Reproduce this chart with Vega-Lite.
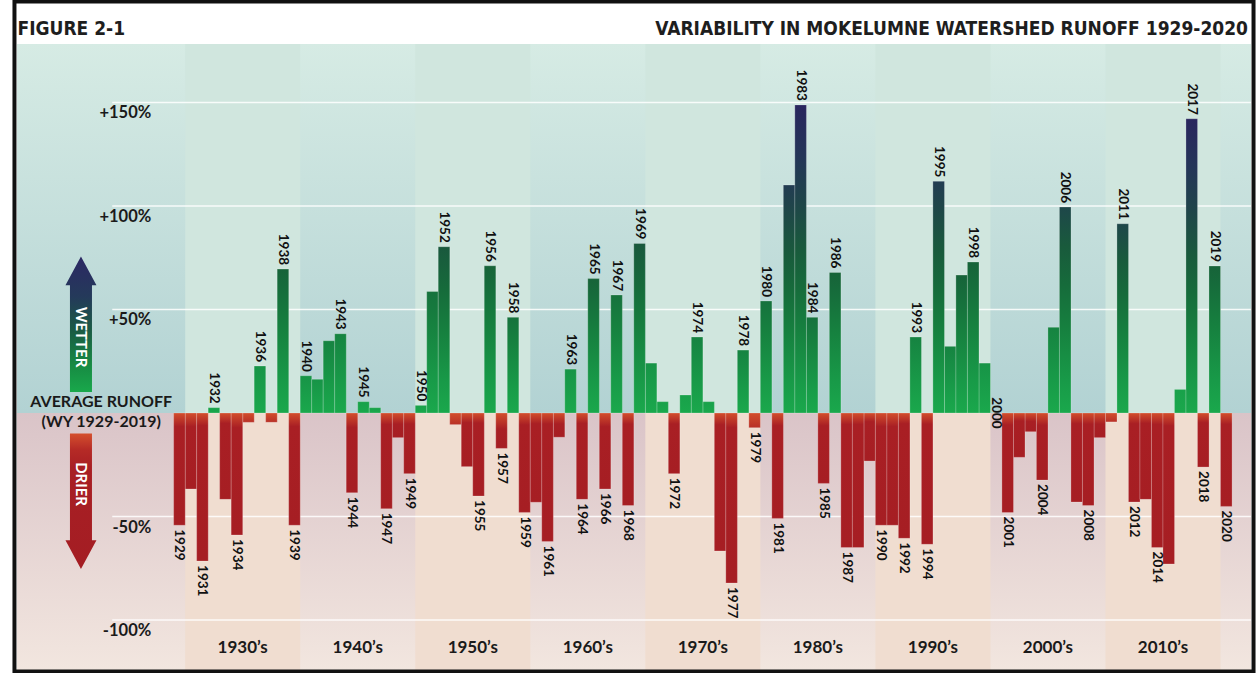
{
  "$schema": "https://vega.github.io/schema/vega-lite/v6.json",
  "width": 1244,
  "height": 626,
  "autosize": {"type": "none"},
  "padding": {"left": 12, "top": 44, "right": 4, "bottom": 3},
  "background": "#ffffff",
  "config": {"view": {"stroke": null}},
  "datasets": {
    "runoff": [
      {"year":1929,"value":-54.2,"labeled":true},
      {"year":1930,"value":-36.7,"labeled":false},
      {"year":1931,"value":-71.5,"labeled":true},
      {"year":1932,"value":2.6,"labeled":true},
      {"year":1933,"value":-41.7,"labeled":false},
      {"year":1934,"value":-58.9,"labeled":true},
      {"year":1935,"value":-4.5,"labeled":false},
      {"year":1936,"value":22.7,"labeled":true},
      {"year":1937,"value":-4.5,"labeled":false},
      {"year":1938,"value":69.5,"labeled":true},
      {"year":1939,"value":-54.2,"labeled":true},
      {"year":1940,"value":18.0,"labeled":true},
      {"year":1941,"value":16.3,"labeled":false},
      {"year":1942,"value":34.9,"labeled":false},
      {"year":1943,"value":38.3,"labeled":true},
      {"year":1944,"value":-38.5,"labeled":true},
      {"year":1945,"value":5.5,"labeled":true},
      {"year":1946,"value":2.6,"labeled":false},
      {"year":1947,"value":-46.2,"labeled":true},
      {"year":1948,"value":-11.9,"labeled":false},
      {"year":1949,"value":-29.3,"labeled":true},
      {"year":1950,"value":3.7,"labeled":true},
      {"year":1951,"value":58.7,"labeled":false},
      {"year":1952,"value":80.3,"labeled":true},
      {"year":1953,"value":-5.6,"labeled":false},
      {"year":1954,"value":-25.9,"labeled":false},
      {"year":1955,"value":-40.1,"labeled":true},
      {"year":1956,"value":71.1,"labeled":true},
      {"year":1957,"value":-17.1,"labeled":true},
      {"year":1958,"value":46.2,"labeled":true},
      {"year":1959,"value":-48.0,"labeled":true},
      {"year":1960,"value":-43.1,"labeled":false},
      {"year":1961,"value":-62.1,"labeled":true},
      {"year":1962,"value":-11.7,"labeled":false},
      {"year":1963,"value":21.2,"labeled":true},
      {"year":1964,"value":-41.7,"labeled":true},
      {"year":1965,"value":64.9,"labeled":true},
      {"year":1966,"value":-36.7,"labeled":true},
      {"year":1967,"value":57.0,"labeled":true},
      {"year":1968,"value":-44.7,"labeled":true},
      {"year":1969,"value":81.9,"labeled":true},
      {"year":1970,"value":24.1,"labeled":false},
      {"year":1971,"value":5.5,"labeled":false},
      {"year":1972,"value":-29.3,"labeled":true},
      {"year":1973,"value":8.7,"labeled":false},
      {"year":1974,"value":36.7,"labeled":true},
      {"year":1975,"value":5.5,"labeled":false},
      {"year":1976,"value":-66.6,"labeled":false},
      {"year":1977,"value":-82.1,"labeled":true},
      {"year":1978,"value":30.4,"labeled":true},
      {"year":1979,"value":-7.1,"labeled":true},
      {"year":1980,"value":54.1,"labeled":true},
      {"year":1981,"value":-50.9,"labeled":true},
      {"year":1982,"value":110.1,"labeled":false},
      {"year":1983,"value":148.8,"labeled":true},
      {"year":1984,"value":46.2,"labeled":true},
      {"year":1985,"value":-34.0,"labeled":true},
      {"year":1986,"value":67.9,"labeled":true},
      {"year":1987,"value":-65.0,"labeled":true},
      {"year":1988,"value":-65.0,"labeled":false},
      {"year":1989,"value":-23.2,"labeled":false},
      {"year":1990,"value":-54.2,"labeled":true},
      {"year":1991,"value":-54.2,"labeled":false},
      {"year":1992,"value":-60.5,"labeled":true},
      {"year":1993,"value":36.7,"labeled":true},
      {"year":1994,"value":-63.4,"labeled":true},
      {"year":1995,"value":111.9,"labeled":true},
      {"year":1996,"value":32.2,"labeled":false},
      {"year":1997,"value":66.6,"labeled":false},
      {"year":1998,"value":72.9,"labeled":true},
      {"year":1999,"value":24.1,"labeled":false},
      {"year":2000,"value":0,"labeled":true},
      {"year":2001,"value":-48.1,"labeled":true},
      {"year":2002,"value":-21.4,"labeled":false},
      {"year":2003,"value":-9.0,"labeled":false},
      {"year":2004,"value":-32.4,"labeled":true},
      {"year":2005,"value":41.4,"labeled":false},
      {"year":2006,"value":99.5,"labeled":true},
      {"year":2007,"value":-43.0,"labeled":false},
      {"year":2008,"value":-44.7,"labeled":true},
      {"year":2009,"value":-11.9,"labeled":false},
      {"year":2010,"value":-4.3,"labeled":false},
      {"year":2011,"value":91.4,"labeled":true},
      {"year":2012,"value":-43.0,"labeled":true},
      {"year":2013,"value":-41.7,"labeled":false},
      {"year":2014,"value":-65.0,"labeled":true},
      {"year":2015,"value":-72.9,"labeled":false},
      {"year":2016,"value":11.4,"labeled":false},
      {"year":2017,"value":142.1,"labeled":true},
      {"year":2018,"value":-26.1,"labeled":true},
      {"year":2019,"value":71.0,"labeled":true},
      {"year":2020,"value":-45.1,"labeled":true}
    ],
    "decades": [
      {"decade":"1930’s","start":1929.5,"end":1939.5,"mid":1934.5,"shade":"light"},
      {"decade":"1940’s","start":1939.5,"end":1949.5,"mid":1944.5,"shade":"dark"},
      {"decade":"1950’s","start":1949.5,"end":1959.5,"mid":1954.5,"shade":"light"},
      {"decade":"1960’s","start":1959.5,"end":1969.5,"mid":1964.5,"shade":"dark"},
      {"decade":"1970’s","start":1969.5,"end":1979.5,"mid":1974.5,"shade":"light"},
      {"decade":"1980’s","start":1979.5,"end":1989.5,"mid":1984.5,"shade":"dark"},
      {"decade":"1990’s","start":1989.5,"end":1999.5,"mid":1994.5,"shade":"light"},
      {"decade":"2000’s","start":1999.5,"end":2009.5,"mid":2004.5,"shade":"dark"},
      {"decade":"2010’s","start":2009.5,"end":2019.5,"mid":2014.5,"shade":"light"}
    ],
    "grid": [
      {"v":150,"t":"+150%"},
      {"v":100,"t":"+100%"},
      {"v":50,"t":"+50%"},
      {"v":-50,"t":"-50%"},
      {"v":-100,"t":"-100%"}
    ]
  },
  "layer": [
    {
      "data": {"values": [{}]},
      "mark": {"type": "rect", "fill": {"gradient": "linear", "x1": 0, "y1": 0, "x2": 0, "y2": 1, "stops": [{"offset": 0, "color": "#d6ebe4"}, {"offset": 1, "color": "#b2d2d3"}]}},
      "encoding": {
        "x": {"datum": 1914.88, "type": "quantitative", "scale": {"domain": [1914.88, 2022.15], "nice": false, "zero": false}, "axis": null},
        "x2": {"datum": 2022.15},
        "y": {"datum": 178.2, "type": "quantitative", "scale": {"domain": [-124.1, 178.2], "nice": false, "zero": false}, "axis": null},
        "y2": {"datum": 0}
      }
    },
    {
      "data": {"values": [{}]},
      "mark": {"type": "rect", "fill": {"gradient": "linear", "x1": 0, "y1": 0, "x2": 0, "y2": 1, "stops": [{"offset": 0, "color": "#dac4c8"}, {"offset": 1, "color": "#f2e6df"}]}},
      "encoding": {
        "x": {"datum": 1914.88, "type": "quantitative", "scale": {"domain": [1914.88, 2022.15], "nice": false, "zero": false}, "axis": null},
        "x2": {"datum": 2022.15},
        "y": {"datum": 0, "type": "quantitative", "scale": {"domain": [-124.1, 178.2], "nice": false, "zero": false}, "axis": null},
        "y2": {"datum": -124.1}
      }
    },
    {
      "data": {"name": "decades"},
      "transform": [{"filter": "datum.shade == 'light'"}],
      "mark": {"type": "rect", "fill": "#d0e6de"},
      "encoding": {
        "x": {"field": "start", "type": "quantitative", "scale": {"domain": [1914.88, 2022.15], "nice": false, "zero": false}, "axis": null},
        "x2": {"field": "end"},
        "y": {"datum": 178.2, "type": "quantitative", "scale": {"domain": [-124.1, 178.2], "nice": false, "zero": false}, "axis": null},
        "y2": {"datum": 0}
      }
    },
    {
      "data": {"name": "decades"},
      "transform": [{"filter": "datum.shade == 'light'"}],
      "mark": {"type": "rect", "fill": "#f0ddd0"},
      "encoding": {
        "x": {"field": "start", "type": "quantitative", "scale": {"domain": [1914.88, 2022.15], "nice": false, "zero": false}, "axis": null},
        "x2": {"field": "end"},
        "y": {"datum": 0, "type": "quantitative", "scale": {"domain": [-124.1, 178.2], "nice": false, "zero": false}, "axis": null},
        "y2": {"datum": -124.1}
      }
    },
    {
      "data": {"name": "grid"},
      "mark": {"type": "rule", "color": "#ffffff", "strokeWidth": 1.5, "opacity": 0.85},
      "encoding": {
        "x": {"datum": 1923.16, "type": "quantitative", "scale": {"domain": [1914.88, 2022.15], "nice": false, "zero": false}, "axis": null},
        "x2": {"datum": 2022.15},
        "y": {"field": "v", "type": "quantitative", "scale": {"domain": [-124.1, 178.2], "nice": false, "zero": false}, "axis": null}
      }
    },
    {
      "data": {"name": "grid"},
      "mark": {"type": "text", "align": "right", "baseline": "middle", "dy": 11, "font": "Lato", "fontWeight": "bold", "fontSize": 16.5, "color": "#1a1a1a"},
      "encoding": {
        "x": {"datum": 1926.55, "type": "quantitative", "scale": {"domain": [1914.88, 2022.15], "nice": false, "zero": false}, "axis": null},
        "y": {"field": "v", "type": "quantitative", "scale": {"domain": [-124.1, 178.2], "nice": false, "zero": false}, "axis": null},
        "text": {"field": "t", "type": "nominal"}
      }
    },
    {
      "data": {"name": "runoff"},
      "transform": [{"filter": "datum.value > 0 && datum.value <= 15"}],
      "mark": {"type": "bar", "width": 11.6, "stroke": "#ffffff", "strokeOpacity": 0.22, "strokeWidth": 1, "fill": {"gradient": "linear", "x1": 0, "y1": 1, "x2": 0, "y2": 0, "stops": [{"offset": 0, "color": "#1aa84c"}, {"offset": 1, "color": "#19a14a"}]}},
      "encoding": {
        "x": {"field": "year", "type": "quantitative", "scale": {"domain": [1914.88, 2022.15], "nice": false, "zero": false}, "axis": null},
        "y": {"field": "value", "type": "quantitative", "scale": {"domain": [-124.1, 178.2], "nice": false, "zero": false}, "axis": null},
        "y2": {"datum": 0}
      }
    },
    {
      "data": {"name": "runoff"},
      "transform": [{"filter": "datum.value > 15 && datum.value <= 30"}],
      "mark": {"type": "bar", "width": 11.6, "stroke": "#ffffff", "strokeOpacity": 0.22, "strokeWidth": 1, "fill": {"gradient": "linear", "x1": 0, "y1": 1, "x2": 0, "y2": 0, "stops": [{"offset": 0, "color": "#1aa84c"}, {"offset": 1, "color": "#179447"}]}},
      "encoding": {
        "x": {"field": "year", "type": "quantitative", "scale": {"domain": [1914.88, 2022.15], "nice": false, "zero": false}, "axis": null},
        "y": {"field": "value", "type": "quantitative", "scale": {"domain": [-124.1, 178.2], "nice": false, "zero": false}, "axis": null},
        "y2": {"datum": 0}
      }
    },
    {
      "data": {"name": "runoff"},
      "transform": [{"filter": "datum.value > 30 && datum.value <= 45"}],
      "mark": {"type": "bar", "width": 11.6, "stroke": "#ffffff", "strokeOpacity": 0.22, "strokeWidth": 1, "fill": {"gradient": "linear", "x1": 0, "y1": 1, "x2": 0, "y2": 0, "stops": [{"offset": 0, "color": "#1aa84c"}, {"offset": 0.4, "color": "#189a48"}, {"offset": 1, "color": "#168341"}]}},
      "encoding": {
        "x": {"field": "year", "type": "quantitative", "scale": {"domain": [1914.88, 2022.15], "nice": false, "zero": false}, "axis": null},
        "y": {"field": "value", "type": "quantitative", "scale": {"domain": [-124.1, 178.2], "nice": false, "zero": false}, "axis": null},
        "y2": {"datum": 0}
      }
    },
    {
      "data": {"name": "runoff"},
      "transform": [{"filter": "datum.value > 45 && datum.value <= 60"}],
      "mark": {"type": "bar", "width": 11.6, "stroke": "#ffffff", "strokeOpacity": 0.22, "strokeWidth": 1, "fill": {"gradient": "linear", "x1": 0, "y1": 1, "x2": 0, "y2": 0, "stops": [{"offset": 0, "color": "#1aa84c"}, {"offset": 0.28, "color": "#189a48"}, {"offset": 0.75, "color": "#16803f"}, {"offset": 1, "color": "#16723d"}]}},
      "encoding": {
        "x": {"field": "year", "type": "quantitative", "scale": {"domain": [1914.88, 2022.15], "nice": false, "zero": false}, "axis": null},
        "y": {"field": "value", "type": "quantitative", "scale": {"domain": [-124.1, 178.2], "nice": false, "zero": false}, "axis": null},
        "y2": {"datum": 0}
      }
    },
    {
      "data": {"name": "runoff"},
      "transform": [{"filter": "datum.value > 60 && datum.value <= 75"}],
      "mark": {"type": "bar", "width": 11.6, "stroke": "#ffffff", "strokeOpacity": 0.22, "strokeWidth": 1, "fill": {"gradient": "linear", "x1": 0, "y1": 1, "x2": 0, "y2": 0, "stops": [{"offset": 0, "color": "#1aa84c"}, {"offset": 0.22, "color": "#189a48"}, {"offset": 0.59, "color": "#16803f"}, {"offset": 0.88, "color": "#166b3b"}, {"offset": 1, "color": "#176339"}]}},
      "encoding": {
        "x": {"field": "year", "type": "quantitative", "scale": {"domain": [1914.88, 2022.15], "nice": false, "zero": false}, "axis": null},
        "y": {"field": "value", "type": "quantitative", "scale": {"domain": [-124.1, 178.2], "nice": false, "zero": false}, "axis": null},
        "y2": {"datum": 0}
      }
    },
    {
      "data": {"name": "runoff"},
      "transform": [{"filter": "datum.value > 75 && datum.value <= 90"}],
      "mark": {"type": "bar", "width": 11.6, "stroke": "#ffffff", "strokeOpacity": 0.22, "strokeWidth": 1, "fill": {"gradient": "linear", "x1": 0, "y1": 1, "x2": 0, "y2": 0, "stops": [{"offset": 0, "color": "#1aa84c"}, {"offset": 0.185, "color": "#189a48"}, {"offset": 0.49, "color": "#16803f"}, {"offset": 0.74, "color": "#166b3b"}, {"offset": 1, "color": "#19583d"}]}},
      "encoding": {
        "x": {"field": "year", "type": "quantitative", "scale": {"domain": [1914.88, 2022.15], "nice": false, "zero": false}, "axis": null},
        "y": {"field": "value", "type": "quantitative", "scale": {"domain": [-124.1, 178.2], "nice": false, "zero": false}, "axis": null},
        "y2": {"datum": 0}
      }
    },
    {
      "data": {"name": "runoff"},
      "transform": [{"filter": "datum.value > 90 && datum.value <= 105"}],
      "mark": {"type": "bar", "width": 11.6, "stroke": "#ffffff", "strokeOpacity": 0.22, "strokeWidth": 1, "fill": {"gradient": "linear", "x1": 0, "y1": 1, "x2": 0, "y2": 0, "stops": [{"offset": 0, "color": "#1aa84c"}, {"offset": 0.156, "color": "#189a48"}, {"offset": 0.417, "color": "#16803f"}, {"offset": 0.625, "color": "#166b3b"}, {"offset": 0.81, "color": "#195a3c"}, {"offset": 1, "color": "#1e474a"}]}},
      "encoding": {
        "x": {"field": "year", "type": "quantitative", "scale": {"domain": [1914.88, 2022.15], "nice": false, "zero": false}, "axis": null},
        "y": {"field": "value", "type": "quantitative", "scale": {"domain": [-124.1, 178.2], "nice": false, "zero": false}, "axis": null},
        "y2": {"datum": 0}
      }
    },
    {
      "data": {"name": "runoff"},
      "transform": [{"filter": "datum.value > 105 && datum.value <= 125"}],
      "mark": {"type": "bar", "width": 11.6, "stroke": "#ffffff", "strokeOpacity": 0.22, "strokeWidth": 1, "fill": {"gradient": "linear", "x1": 0, "y1": 1, "x2": 0, "y2": 0, "stops": [{"offset": 0, "color": "#1aa84c"}, {"offset": 0.135, "color": "#189a48"}, {"offset": 0.36, "color": "#16803f"}, {"offset": 0.54, "color": "#166b3b"}, {"offset": 0.7, "color": "#195a3c"}, {"offset": 0.9, "color": "#1f4549"}, {"offset": 1, "color": "#223c52"}]}},
      "encoding": {
        "x": {"field": "year", "type": "quantitative", "scale": {"domain": [1914.88, 2022.15], "nice": false, "zero": false}, "axis": null},
        "y": {"field": "value", "type": "quantitative", "scale": {"domain": [-124.1, 178.2], "nice": false, "zero": false}, "axis": null},
        "y2": {"datum": 0}
      }
    },
    {
      "data": {"name": "runoff"},
      "transform": [{"filter": "datum.value > 125"}],
      "mark": {"type": "bar", "width": 11.6, "stroke": "#ffffff", "strokeOpacity": 0.22, "strokeWidth": 1, "fill": {"gradient": "linear", "x1": 0, "y1": 1, "x2": 0, "y2": 0, "stops": [{"offset": 0, "color": "#1aa84c"}, {"offset": 0.103, "color": "#189a48"}, {"offset": 0.274, "color": "#16803f"}, {"offset": 0.41, "color": "#166b3b"}, {"offset": 0.534, "color": "#195a3c"}, {"offset": 0.685, "color": "#1f4549"}, {"offset": 0.836, "color": "#243558"}, {"offset": 1, "color": "#29265e"}]}},
      "encoding": {
        "x": {"field": "year", "type": "quantitative", "scale": {"domain": [1914.88, 2022.15], "nice": false, "zero": false}, "axis": null},
        "y": {"field": "value", "type": "quantitative", "scale": {"domain": [-124.1, 178.2], "nice": false, "zero": false}, "axis": null},
        "y2": {"datum": 0}
      }
    },
    {
      "data": {"name": "runoff"},
      "transform": [{"filter": "datum.value < 0 && datum.value >= -8"}],
      "mark": {"type": "bar", "width": 11.6, "stroke": "#ffffff", "strokeOpacity": 0.22, "strokeWidth": 1, "fill": {"gradient": "linear", "x1": 0, "y1": 0, "x2": 0, "y2": 1, "stops": [{"offset": 0, "color": "#d24e2c"}, {"offset": 1, "color": "#b83027"}]}},
      "encoding": {
        "x": {"field": "year", "type": "quantitative", "scale": {"domain": [1914.88, 2022.15], "nice": false, "zero": false}, "axis": null},
        "y": {"field": "value", "type": "quantitative", "scale": {"domain": [-124.1, 178.2], "nice": false, "zero": false}, "axis": null},
        "y2": {"datum": 0}
      }
    },
    {
      "data": {"name": "runoff"},
      "transform": [{"filter": "datum.value < -8 && datum.value >= -20"}],
      "mark": {"type": "bar", "width": 11.6, "stroke": "#ffffff", "strokeOpacity": 0.22, "strokeWidth": 1, "fill": {"gradient": "linear", "x1": 0, "y1": 0, "x2": 0, "y2": 1, "stops": [{"offset": 0, "color": "#d24e2c"}, {"offset": 0.45, "color": "#a91f24"}, {"offset": 1, "color": "#a61e23"}]}},
      "encoding": {
        "x": {"field": "year", "type": "quantitative", "scale": {"domain": [1914.88, 2022.15], "nice": false, "zero": false}, "axis": null},
        "y": {"field": "value", "type": "quantitative", "scale": {"domain": [-124.1, 178.2], "nice": false, "zero": false}, "axis": null},
        "y2": {"datum": 0}
      }
    },
    {
      "data": {"name": "runoff"},
      "transform": [{"filter": "datum.value < -20 && datum.value >= -40"}],
      "mark": {"type": "bar", "width": 11.6, "stroke": "#ffffff", "strokeOpacity": 0.22, "strokeWidth": 1, "fill": {"gradient": "linear", "x1": 0, "y1": 0, "x2": 0, "y2": 1, "stops": [{"offset": 0, "color": "#d24e2c"}, {"offset": 0.18, "color": "#a91f24"}, {"offset": 1, "color": "#a61e23"}]}},
      "encoding": {
        "x": {"field": "year", "type": "quantitative", "scale": {"domain": [1914.88, 2022.15], "nice": false, "zero": false}, "axis": null},
        "y": {"field": "value", "type": "quantitative", "scale": {"domain": [-124.1, 178.2], "nice": false, "zero": false}, "axis": null},
        "y2": {"datum": 0}
      }
    },
    {
      "data": {"name": "runoff"},
      "transform": [{"filter": "datum.value < -40 && datum.value >= -60"}],
      "mark": {"type": "bar", "width": 11.6, "stroke": "#ffffff", "strokeOpacity": 0.22, "strokeWidth": 1, "fill": {"gradient": "linear", "x1": 0, "y1": 0, "x2": 0, "y2": 1, "stops": [{"offset": 0, "color": "#d24e2c"}, {"offset": 0.12, "color": "#a91f24"}, {"offset": 1, "color": "#a61e23"}]}},
      "encoding": {
        "x": {"field": "year", "type": "quantitative", "scale": {"domain": [1914.88, 2022.15], "nice": false, "zero": false}, "axis": null},
        "y": {"field": "value", "type": "quantitative", "scale": {"domain": [-124.1, 178.2], "nice": false, "zero": false}, "axis": null},
        "y2": {"datum": 0}
      }
    },
    {
      "data": {"name": "runoff"},
      "transform": [{"filter": "datum.value < -60"}],
      "mark": {"type": "bar", "width": 11.6, "stroke": "#ffffff", "strokeOpacity": 0.22, "strokeWidth": 1, "fill": {"gradient": "linear", "x1": 0, "y1": 0, "x2": 0, "y2": 1, "stops": [{"offset": 0, "color": "#d24e2c"}, {"offset": 0.085, "color": "#a91f24"}, {"offset": 1, "color": "#a61e23"}]}},
      "encoding": {
        "x": {"field": "year", "type": "quantitative", "scale": {"domain": [1914.88, 2022.15], "nice": false, "zero": false}, "axis": null},
        "y": {"field": "value", "type": "quantitative", "scale": {"domain": [-124.1, 178.2], "nice": false, "zero": false}, "axis": null},
        "y2": {"datum": 0}
      }
    },
    {
      "data": {"name": "runoff"},
      "transform": [{"filter": "datum.labeled && datum.value > 0"}],
      "mark": {"type": "text", "angle": 90, "align": "right", "baseline": "middle", "dx": -4, "font": "Lato", "fontWeight": "bold", "fontSize": 13.5, "color": "#111111"},
      "encoding": {
        "x": {"field": "year", "type": "quantitative", "scale": {"domain": [1914.88, 2022.15], "nice": false, "zero": false}, "axis": null},
        "y": {"field": "value", "type": "quantitative", "scale": {"domain": [-124.1, 178.2], "nice": false, "zero": false}, "axis": null},
        "text": {"field": "year", "type": "nominal"}
      }
    },
    {
      "data": {"name": "runoff"},
      "transform": [{"filter": "datum.labeled && datum.value < 0"}],
      "mark": {"type": "text", "angle": 90, "align": "left", "baseline": "middle", "dx": 4, "font": "Lato", "fontWeight": "bold", "fontSize": 13.5, "color": "#111111"},
      "encoding": {
        "x": {"field": "year", "type": "quantitative", "scale": {"domain": [1914.88, 2022.15], "nice": false, "zero": false}, "axis": null},
        "y": {"field": "value", "type": "quantitative", "scale": {"domain": [-124.1, 178.2], "nice": false, "zero": false}, "axis": null},
        "text": {"field": "year", "type": "nominal"}
      }
    },
    {
      "data": {"name": "runoff"},
      "transform": [{"filter": "datum.labeled && datum.value == 0"}],
      "mark": {"type": "text", "angle": 90, "align": "center", "baseline": "middle", "font": "Lato", "fontWeight": "bold", "fontSize": 13.5, "color": "#111111"},
      "encoding": {
        "x": {"field": "year", "type": "quantitative", "scale": {"domain": [1914.88, 2022.15], "nice": false, "zero": false}, "axis": null},
        "y": {"field": "value", "type": "quantitative", "scale": {"domain": [-124.1, 178.2], "nice": false, "zero": false}, "axis": null},
        "text": {"field": "year", "type": "nominal"}
      }
    },
    {
      "data": {"name": "decades"},
      "mark": {"type": "text", "align": "center", "baseline": "middle", "font": "Lato", "fontWeight": "bold", "fontSize": 17, "color": "#1a1a1a"},
      "encoding": {
        "x": {"field": "mid", "type": "quantitative", "scale": {"domain": [1914.88, 2022.15], "nice": false, "zero": false}, "axis": null},
        "y": {"datum": -113.5, "type": "quantitative", "scale": {"domain": [-124.1, 178.2], "nice": false, "zero": false}, "axis": null},
        "text": {"field": "decade", "type": "nominal"}
      }
    },
    {
      "data": {"values": [{}]},
      "mark": {"type": "point", "shape": "M0,-4.37L1,-2.52L0.71,-2.52L0.71,4.37L-0.71,4.37L-0.71,-2.52L-1,-2.52Z", "size": 961, "filled": true, "opacity": 1, "strokeWidth": 0, "fill": {"gradient": "linear", "x1": 0, "y1": 0, "x2": 0, "y2": 1, "stops": [{"offset": 0, "color": "#2c2864"}, {"offset": 0.3, "color": "#243a5a"}, {"offset": 0.55, "color": "#1a5c44"}, {"offset": 0.8, "color": "#178a43"}, {"offset": 1, "color": "#19a84b"}]}},
      "encoding": {
        "x": {"datum": 1920.44, "type": "quantitative", "scale": {"domain": [1914.88, 2022.15], "nice": false, "zero": false}, "axis": null},
        "y": {"datum": 42.88, "type": "quantitative", "scale": {"domain": [-124.1, 178.2], "nice": false, "zero": false}, "axis": null}
      }
    },
    {
      "data": {"values": [{}]},
      "mark": {"type": "point", "shape": "M-0.71,-4.37L0.71,-4.37L0.71,2.52L1,2.52L0,4.37L-1,2.52L-0.71,2.52Z", "size": 961, "filled": true, "opacity": 1, "strokeWidth": 0, "fill": {"gradient": "linear", "x1": 0, "y1": 0, "x2": 0, "y2": 1, "stops": [{"offset": 0, "color": "#d44f2d"}, {"offset": 0.12, "color": "#b52a26"}, {"offset": 0.25, "color": "#a81f24"}, {"offset": 1, "color": "#a41d23"}]}},
      "encoding": {
        "x": {"datum": 1920.44, "type": "quantitative", "scale": {"domain": [1914.88, 2022.15], "nice": false, "zero": false}, "axis": null},
        "y": {"datum": -42.64, "type": "quantitative", "scale": {"domain": [-124.1, 178.2], "nice": false, "zero": false}, "axis": null}
      }
    },
    {
      "data": {"values": [{"t": "WETTER", "v": 36.7}, {"t": "DRIER", "v": -34.3}]},
      "mark": {"type": "text", "angle": 90, "align": "center", "baseline": "middle", "font": "Lato", "fontWeight": "bold", "fontSize": 15, "color": "#ffffff"},
      "encoding": {
        "x": {"datum": 1920.44, "type": "quantitative", "scale": {"domain": [1914.88, 2022.15], "nice": false, "zero": false}, "axis": null},
        "y": {"field": "v", "type": "quantitative", "scale": {"domain": [-124.1, 178.2], "nice": false, "zero": false}, "axis": null},
        "text": {"field": "t", "type": "nominal"}
      }
    },
    {
      "data": {"values": [{"t": "AVERAGE RUNOFF", "v": 5.2}, {"t": "(WY 1929-2019)", "v": -4.2}]},
      "mark": {"type": "text", "align": "center", "baseline": "middle", "font": "Lato", "fontWeight": "bold", "fontSize": 16, "color": "#1a1a1a"},
      "encoding": {
        "x": {"datum": 1922.2, "type": "quantitative", "scale": {"domain": [1914.88, 2022.15], "nice": false, "zero": false}, "axis": null},
        "y": {"field": "v", "type": "quantitative", "scale": {"domain": [-124.1, 178.2], "nice": false, "zero": false}, "axis": null},
        "text": {"field": "t", "type": "nominal"}
      }
    },
    {
      "data": {"values": [{"t": "FIGURE 2-1"}]},
      "mark": {"type": "text", "align": "left", "baseline": "middle", "font": "DejaVu Sans Condensed", "fontWeight": "bold", "fontSize": 19, "color": "#1e1e1e", "clip": false},
      "encoding": {
        "x": {"datum": 1914.92, "type": "quantitative", "scale": {"domain": [1914.88, 2022.15], "nice": false, "zero": false}, "axis": null},
        "y": {"datum": 185.4, "type": "quantitative", "scale": {"domain": [-124.1, 178.2], "nice": false, "zero": false}, "axis": null},
        "text": {"field": "t", "type": "nominal"}
      }
    },
    {
      "data": {"values": [{"t": "VARIABILITY IN MOKELUMNE WATERSHED RUNOFF 1929-2020"}]},
      "mark": {"type": "text", "align": "right", "baseline": "middle", "font": "DejaVu Sans Condensed", "fontWeight": "bold", "fontSize": 19, "color": "#1e1e1e", "clip": false},
      "encoding": {
        "x": {"datum": 2021.89, "type": "quantitative", "scale": {"domain": [1914.88, 2022.15], "nice": false, "zero": false}, "axis": null},
        "y": {"datum": 185.4, "type": "quantitative", "scale": {"domain": [-124.1, 178.2], "nice": false, "zero": false}, "axis": null},
        "text": {"field": "t", "type": "nominal"}
      }
    },
    {
      "data": {"values": [{}]},
      "mark": {"type": "rect", "fill": null, "fillOpacity": 0, "stroke": "#111111", "strokeWidth": 4, "clip": false},
      "encoding": {
        "x": {"datum": 1914.66, "type": "quantitative", "scale": {"domain": [1914.88, 2022.15], "nice": false, "zero": false}, "axis": null},
        "x2": {"datum": 2022.37},
        "y": {"datum": 198.7, "type": "quantitative", "scale": {"domain": [-124.1, 178.2], "nice": false, "zero": false}, "axis": null},
        "y2": {"datum": -124.8}
      }
    }
  ]
}
